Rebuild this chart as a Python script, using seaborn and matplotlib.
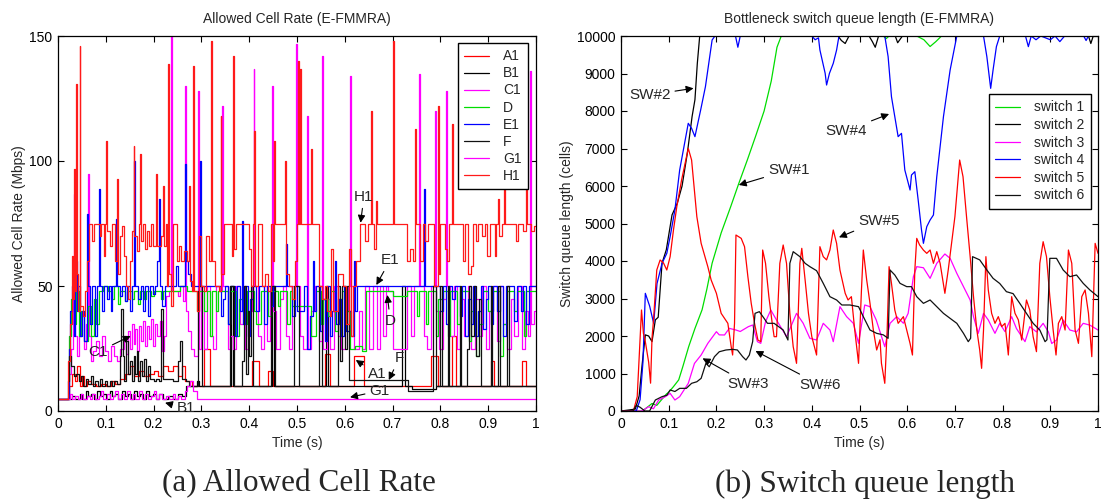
import matplotlib
matplotlib.use('Agg')
import matplotlib.pyplot as plt
import seaborn as sns
import pandas as pd

# ---------------- data: left panel (Allowed Cell Rate, Mbps), step change points (t, value)
A1 = [(0, 5), (0.02, 5), (0.024, 10), (0.03, 15), (0.035, 12), (0.04, 18), (0.045, 10), (0.05, 14),
      (0.055, 10), (0.06, 12), (0.07, 11), (0.08, 10), (0.09, 11), (0.1, 10), (0.11, 12), (0.12, 11),
      (0.13, 13), (0.14, 15), (0.15, 18), (0.16, 14), (0.17, 16), (0.18, 14), (0.19, 15), (0.2, 16),
      (0.21, 14), (0.22, 18), (0.23, 16), (0.24, 18), (0.25, 14), (0.26, 18), (0.265, 12), (0.28, 10),
      (0.305, 25), (0.318, 10), (0.405, 20), (0.42, 10), (0.44, 16), (0.45, 10), (0.558, 23), (0.569, 10),
      (0.62, 22), (0.64, 10), (0.78, 22), (0.795, 10), (0.825, 30), (0.832, 10), (0.905, 20), (0.913, 10),
      (0.97, 20), (0.98, 10), (1.0, 10)]
B1 = [(0, 5), (0.03, 6), (0.035, 5), (0.045, 7), (0.05, 5), (0.058, 8), (0.063, 6), (0.07, 7), (0.075, 5),
      (0.082, 8), (0.088, 6), (0.095, 7), (0.1, 5), (0.108, 8), (0.113, 6), (0.12, 7), (0.126, 5), (0.134, 8),
      (0.14, 6), (0.146, 7), (0.152, 5), (0.16, 8), (0.165, 6), (0.172, 7), (0.178, 5), (0.185, 8), (0.19, 6),
      (0.198, 7), (0.205, 5), (0.212, 7), (0.22, 5), (0.23, 6), (0.24, 5), (0.25, 7), (0.26, 6), (0.268, 10),
      (0.29, 12), (0.296, 10), (0.362, 50), (0.366, 10), (0.448, 50), (0.452, 10), (0.56, 50), (0.564, 10),
      (0.72, 50), (0.726, 10), (0.74, 9), (0.79, 10), (1.0, 10)]
C1 = [(0, 5), (0.022, 15), (0.027, 25), (0.031, 55), (0.033, 87), (0.035, 30), (0.039, 22), (0.044, 30),
      (0.049, 38), (0.054, 25), (0.059, 35), (0.062, 95), (0.064, 30), (0.069, 20), (0.074, 24), (0.08, 28),
      (0.086, 22), (0.092, 30), (0.098, 24), (0.104, 20), (0.11, 26), (0.117, 22), (0.124, 20), (0.13, 25),
      (0.138, 30), (0.142, 23), (0.146, 32), (0.15, 25), (0.154, 35), (0.158, 27), (0.162, 33), (0.166, 24),
      (0.17, 34), (0.174, 28), (0.178, 36), (0.182, 26), (0.186, 34), (0.19, 29), (0.194, 37), (0.198, 26),
      (0.203, 35), (0.208, 30), (0.213, 36), (0.218, 24), (0.222, 30), (0.226, 46), (0.232, 48), (0.236, 150),
      (0.238, 48), (0.25, 46), (0.255, 50), (0.262, 44), (0.266, 130), (0.268, 40), (0.272, 32), (0.278, 25),
      (0.285, 22), (0.292, 128), (0.294, 25), (0.3, 50), (0.305, 25), (0.312, 50), (0.318, 30), (0.325, 25),
      (0.33, 50), (0.338, 48), (0.343, 122), (0.345, 50), (0.355, 25), (0.36, 30), (0.366, 25), (0.372, 50),
      (0.38, 35), (0.386, 50), (0.392, 25), (0.398, 40), (0.405, 50), (0.409, 137), (0.411, 50), (0.418, 30),
      (0.424, 25), (0.43, 50), (0.437, 28), (0.443, 50), (0.448, 130), (0.45, 40), (0.456, 25), (0.464, 45),
      (0.47, 50), (0.477, 30), (0.484, 25), (0.49, 50), (0.498, 147), (0.5, 50), (0.507, 30), (0.513, 25),
      (0.52, 118), (0.522, 25), (0.53, 40), (0.538, 50), (0.545, 28), (0.553, 142), (0.555, 25), (0.563, 45),
      (0.57, 25), (0.578, 50), (0.585, 30), (0.592, 25), (0.6, 40), (0.606, 50), (0.61, 134), (0.613, 50),
      (0.62, 25), (0.63, 40), (0.636, 25), (0.642, 50), (0.65, 25), (0.66, 50), (0.667, 25), (0.673, 50),
      (0.68, 30), (0.686, 50), (0.69, 48), (0.7, 25), (0.73, 50), (0.738, 30), (0.745, 50), (0.755, 135),
      (0.757, 50), (0.765, 30), (0.772, 25), (0.78, 50), (0.788, 120), (0.79, 40), (0.797, 25), (0.805, 45),
      (0.812, 128), (0.814, 50), (0.82, 30), (0.828, 50), (0.835, 25), (0.842, 45), (0.85, 30), (0.858, 50),
      (0.865, 25), (0.872, 45), (0.88, 30), (0.888, 50), (0.895, 25), (0.902, 40), (0.91, 50), (0.918, 28),
      (0.925, 50), (0.932, 35), (0.94, 25), (0.947, 45), (0.955, 30), (0.962, 50), (0.97, 25), (0.976, 40),
      (0.983, 30), (0.988, 136), (0.99, 35), (0.995, 40), (1.0, 40)]
D = [(0, 5), (0.022, 30), (0.028, 45), (0.033, 35), (0.038, 48), (0.043, 30), (0.048, 40), (0.055, 28),
     (0.062, 42), (0.068, 30), (0.075, 45), (0.08, 35), (0.085, 48), (0.095, 50), (0.105, 48), (0.112, 45),
     (0.118, 50), (0.125, 43), (0.13, 48), (0.14, 44), (0.145, 48), (0.155, 45), (0.16, 48), (0.168, 43),
     (0.172, 48), (0.18, 45), (0.185, 48), (0.195, 46), (0.2, 48), (0.215, 45), (0.22, 48), (0.255, 50),
     (0.27, 48), (0.29, 40), (0.295, 48), (0.305, 40), (0.312, 48), (0.318, 30), (0.322, 48), (0.33, 40),
     (0.335, 48), (0.355, 35), (0.36, 48), (0.372, 30), (0.378, 45), (0.39, 35), (0.396, 48), (0.41, 40),
     (0.415, 35), (0.425, 48), (0.44, 38), (0.445, 48), (0.46, 42), (0.465, 48), (0.48, 35), (0.485, 48),
     (0.49, 42), (0.53, 30), (0.54, 48), (0.55, 35), (0.555, 45), (0.565, 38), (0.57, 48), (0.58, 32),
     (0.586, 45), (0.595, 48), (0.603, 40), (0.61, 25), (0.622, 26), (0.635, 24), (0.645, 48), (0.7, 46),
     (0.73, 48), (0.75, 38), (0.755, 48), (0.77, 35), (0.775, 48), (0.79, 30), (0.795, 45), (0.805, 48),
     (0.815, 30), (0.82, 48), (0.835, 35), (0.84, 48), (0.86, 28), (0.865, 40), (0.875, 22), (0.88, 35),
     (0.89, 48), (0.9, 40), (0.91, 48), (0.925, 22), (0.93, 35), (0.94, 48), (0.955, 40), (0.96, 48),
     (0.975, 30), (0.98, 48), (1.0, 48)]
E1 = [(0, 5), (0.022, 25), (0.026, 40), (0.03, 50), (0.033, 30), (0.036, 60), (0.039, 40), (0.042, 50),
      (0.046, 30), (0.05, 40), (0.055, 28), (0.061, 79), (0.063, 50), (0.067, 35), (0.072, 50), (0.077, 30),
      (0.082, 50), (0.086, 89), (0.088, 50), (0.092, 40), (0.097, 50), (0.102, 45), (0.106, 50), (0.11, 40),
      (0.114, 50), (0.121, 77), (0.123, 50), (0.13, 46), (0.134, 50), (0.14, 44), (0.145, 50), (0.15, 40),
      (0.155, 50), (0.16, 100), (0.162, 50), (0.168, 45), (0.173, 50), (0.178, 40), (0.183, 50), (0.188, 38),
      (0.192, 50), (0.198, 47), (0.202, 50), (0.208, 60), (0.212, 85), (0.214, 50), (0.218, 42), (0.223, 50),
      (0.247, 58), (0.251, 50), (0.266, 99), (0.268, 60), (0.273, 55), (0.279, 50), (0.297, 100), (0.299, 50),
      (0.34, 38), (0.345, 45), (0.35, 50), (0.356, 35), (0.36, 50), (0.37, 30), (0.375, 50), (0.38, 40),
      (0.385, 76), (0.387, 35), (0.392, 50), (0.397, 30), (0.402, 45), (0.407, 50), (0.415, 40), (0.42, 50),
      (0.432, 35), (0.437, 50), (0.445, 42), (0.45, 50), (0.478, 67), (0.48, 50), (0.49, 38), (0.495, 50),
      (0.5, 40), (0.515, 50), (0.52, 25), (0.527, 38), (0.533, 60), (0.535, 40), (0.54, 50), (0.548, 32),
      (0.553, 45), (0.558, 28), (0.563, 50), (0.568, 30), (0.574, 40), (0.58, 60), (0.582, 35), (0.587, 45),
      (0.592, 30), (0.598, 50), (0.602, 32), (0.608, 40), (0.614, 30), (0.62, 60), (0.622, 40), (0.626, 50),
      (0.765, 89), (0.767, 50), (0.8, 40), (0.805, 50), (0.812, 35), (0.818, 50), (0.825, 45), (0.83, 50),
      (0.84, 38), (0.845, 50), (0.852, 30), (0.858, 45), (0.863, 35), (0.868, 50), (0.873, 30), (0.878, 40),
      (0.884, 50), (0.89, 33), (0.895, 45), (0.9, 50), (0.905, 35), (0.91, 50), (0.918, 40), (0.924, 50),
      (0.932, 30), (0.937, 50), (0.955, 36), (0.96, 50), (0.968, 40), (0.972, 50), (0.98, 35), (0.985, 50),
      (1.0, 50)]
F = [(0, 5), (0.021, 12), (0.024, 22), (0.028, 18), (0.033, 14), (0.038, 15), (0.043, 12), (0.048, 14),
     (0.053, 10), (0.058, 13), (0.063, 11), (0.068, 14), (0.073, 10), (0.078, 12), (0.083, 10), (0.088, 13),
     (0.093, 10), (0.098, 12), (0.103, 10), (0.108, 12), (0.113, 10), (0.118, 12), (0.123, 11), (0.129, 22),
     (0.132, 41), (0.135, 22), (0.139, 12), (0.143, 28), (0.146, 15), (0.15, 20), (0.154, 12), (0.158, 22),
     (0.161, 15), (0.165, 24), (0.168, 12), (0.172, 20), (0.176, 14), (0.18, 21), (0.184, 12), (0.188, 18),
     (0.192, 13), (0.2, 12), (0.205, 13), (0.212, 12), (0.216, 41), (0.219, 13), (0.24, 12), (0.252, 20),
     (0.256, 28), (0.26, 13), (0.268, 12), (0.274, 10), (0.292, 48), (0.296, 50), (0.302, 10), (0.36, 50),
     (0.368, 10), (0.385, 20), (0.39, 50), (0.393, 15), (0.397, 40), (0.4, 22), (0.404, 50), (0.408, 10),
     (0.445, 50), (0.455, 10), (0.493, 50), (0.505, 10), (0.545, 50), (0.552, 10), (0.585, 50), (0.59, 20),
     (0.594, 50), (0.6, 25), (0.604, 50), (0.608, 12.5), (0.733, 8), (0.785, 50), (0.79, 10), (0.8, 50),
     (0.803, 10), (0.815, 50), (0.818, 10), (0.84, 50), (0.843, 10), (0.855, 25), (0.86, 50), (0.865, 30),
     (0.87, 50), (0.875, 22), (0.88, 45), (0.885, 10), (0.905, 50), (0.908, 10), (0.92, 50), (0.924, 10),
     (0.94, 50), (0.943, 10), (1.0, 10)]
G1 = [(0, 5), (0.025, 7), (0.03, 5), (0.036, 6), (0.042, 5), (0.048, 7), (0.053, 5), (0.06, 6), (0.066, 5),
      (0.072, 7), (0.078, 5), (0.085, 6), (0.09, 8), (0.095, 5), (0.102, 7), (0.108, 5), (0.115, 6), (0.12, 8),
      (0.125, 5), (0.132, 7), (0.138, 5), (0.145, 8), (0.15, 5), (0.157, 7), (0.162, 5), (0.17, 8), (0.175, 5),
      (0.182, 7), (0.188, 5), (0.195, 6), (0.2, 8), (0.205, 5), (0.212, 7), (0.218, 5), (0.225, 6), (0.232, 5),
      (0.24, 7), (0.245, 5), (0.252, 6), (0.258, 5), (0.265, 8), (0.27, 10), (0.276, 12), (0.282, 8), (0.29, 5),
      (1.0, 5)]
H1 = [(0, 5), (0.021, 20), (0.025, 35), (0.029, 62), (0.032, 45), (0.034, 97), (0.036, 48), (0.037, 131),
      (0.039, 55), (0.042, 40), (0.045, 146), (0.047, 42), (0.052, 38), (0.056, 48), (0.06, 60), (0.064, 75),
      (0.072, 68), (0.075, 75), (0.087, 70), (0.091, 75), (0.096, 62), (0.099, 75), (0.101, 108), (0.103, 72),
      (0.108, 66), (0.112, 75), (0.12, 60), (0.124, 93), (0.126, 55), (0.129, 70), (0.134, 74), (0.138, 62),
      (0.142, 50), (0.147, 45), (0.151, 60), (0.155, 72), (0.158, 106), (0.16, 70), (0.165, 64), (0.169, 75),
      (0.171, 103), (0.173, 68), (0.178, 75), (0.182, 65), (0.186, 72), (0.19, 66), (0.195, 75), (0.199, 66),
      (0.204, 72), (0.206, 95), (0.208, 66), (0.215, 70), (0.219, 90), (0.221, 66), (0.226, 75), (0.229, 50),
      (0.231, 139), (0.233, 55), (0.237, 42), (0.241, 75), (0.249, 60), (0.254, 66), (0.258, 60), (0.264, 64),
      (0.27, 60), (0.275, 90), (0.277, 52), (0.281, 48), (0.283, 138), (0.285, 48), (0.29, 40), (0.295, 70),
      (0.299, 50), (0.306, 48), (0.31, 70), (0.315, 60), (0.32, 148), (0.323, 60), (0.328, 50), (0.336, 48),
      (0.34, 118), (0.342, 55), (0.348, 75), (0.363, 62), (0.366, 142), (0.369, 65), (0.373, 75), (0.4, 65),
      (0.404, 50), (0.408, 75), (0.411, 112), (0.413, 50), (0.418, 75), (0.427, 50), (0.433, 55), (0.44, 48),
      (0.445, 75), (0.449, 60), (0.452, 108), (0.454, 75), (0.475, 100), (0.477, 55), (0.483, 50), (0.49, 45),
      (0.495, 60), (0.499, 75), (0.502, 140), (0.504, 75), (0.507, 137), (0.509, 75), (0.53, 105), (0.532, 75),
      (0.545, 50), (0.552, 45), (0.558, 50), (0.563, 40), (0.568, 38), (0.572, 65), (0.576, 40), (0.586, 55),
      (0.596, 50), (0.603, 35), (0.608, 65), (0.612, 30), (0.618, 50), (0.624, 60), (0.631, 75), (0.643, 68),
      (0.648, 75), (0.655, 120), (0.657, 75), (0.662, 65), (0.666, 84), (0.668, 75), (0.7, 148), (0.703, 75),
      (0.731, 60), (0.737, 65), (0.742, 60), (0.747, 113), (0.749, 75), (0.758, 60), (0.763, 75), (0.768, 68),
      (0.775, 75), (0.787, 50), (0.795, 122), (0.797, 55), (0.8, 75), (0.809, 65), (0.814, 60), (0.819, 75),
      (0.825, 115), (0.827, 75), (0.847, 60), (0.852, 75), (0.857, 55), (0.863, 58), (0.868, 75), (0.874, 68),
      (0.879, 75), (0.888, 70), (0.893, 75), (0.898, 62), (0.903, 75), (0.914, 62), (0.917, 75), (0.921, 85),
      (0.923, 70), (0.928, 75), (0.933, 126), (0.935, 75), (0.958, 68), (0.963, 75), (0.973, 72), (0.98, 113),
      (0.982, 75), (0.99, 72), (0.995, 74), (1.0, 74)]

acr_names = ['A1', 'B1', 'C1', 'D', 'E1', 'F', 'G1', 'H1']
acr_series = [A1, B1, C1, D, E1, F, G1, H1]
acr_colors = ['#ff0000', '#000000', '#ff00ff', '#00dd00', '#0000ff', '#111111', '#ff00ff', '#ff1a1a']

# ---------------- data: right panel (switch queue length, cells), points (t, value)
SW1 = [(0, 0), (0.045, 0), (0.055, 100), (0.065, 200), (0.075, 150), (0.085, 300), (0.095, 450), (0.1, 500),
       (0.11, 650), (0.121, 830), (0.13, 1200), (0.142, 1720), (0.155, 2200), (0.17, 2700), (0.18, 3250),
       (0.191, 3940), (0.21, 4750), (0.23, 5450), (0.247, 6070), (0.265, 6700), (0.282, 7320), (0.3, 8000),
       (0.315, 8800), (0.327, 9700), (0.336, 10000), (0.55, 10000), (0.556, 9930), (0.562, 10000),
       (0.62, 10000), (0.635, 9900), (0.648, 9720), (0.66, 9850), (0.672, 10000), (1.0, 10000)]
SW2 = [(0, 0), (0.03, 50), (0.038, 400), (0.044, 1200), (0.051, 2030), (0.058, 2000), (0.065, 1850),
       (0.072, 2430), (0.078, 2500), (0.086, 3940), (0.095, 4300), (0.107, 5230), (0.118, 5540), (0.128, 6000),
       (0.139, 6870), (0.149, 7850), (0.155, 8300), (0.16, 9270), (0.165, 10000), (0.455, 10000), (0.462, 9880),
       (0.47, 9800), (0.478, 10000), (0.52, 10000), (0.527, 9850), (0.533, 9700), (0.54, 10000), (0.575, 10000),
       (0.58, 9820), (0.59, 10000), (0.98, 10000), (0.985, 9800), (0.99, 10000), (1.0, 10000)]
SW3 = [(0, 0), (0.044, 0), (0.058, 115), (0.068, 60), (0.079, 293), (0.093, 382), (0.103, 471), (0.113, 293),
       (0.123, 382), (0.141, 736), (0.154, 1269), (0.168, 1493), (0.182, 1804), (0.2, 2115), (0.206, 2030),
       (0.217, 2027), (0.227, 2204), (0.241, 2160), (0.25, 2120), (0.267, 2249), (0.276, 2293), (0.286, 1849),
       (0.293, 1804), (0.303, 2380), (0.314, 2693), (0.326, 2427), (0.347, 1982), (0.368, 2604), (0.382, 2338),
       (0.396, 1938), (0.41, 1893), (0.424, 2338), (0.438, 2160), (0.445, 1849), (0.459, 2782), (0.473, 2516),
       (0.487, 2340), (0.498, 1804), (0.511, 2827), (0.522, 2782), (0.535, 2430), (0.553, 1715), (0.564, 2338),
       (0.578, 2516), (0.592, 2340), (0.602, 2604), (0.613, 3582), (0.62, 3849), (0.634, 3820), (0.648, 3538),
       (0.662, 3938), (0.679, 4187), (0.69, 4070), (0.704, 3671), (0.718, 3316), (0.732, 2960), (0.739, 2516),
       (0.749, 2071), (0.76, 2604), (0.77, 2427), (0.784, 2071), (0.794, 2338), (0.805, 2116), (0.819, 2516),
       (0.829, 2200), (0.847, 1849), (0.857, 2249), (0.871, 2110), (0.885, 2338), (0.896, 2110), (0.903, 1800),
       (0.913, 1893), (0.927, 2427), (0.941, 2160), (0.955, 2110), (0.969, 2338), (0.983, 2290), (1.0, 2160)]
SW4 = [(0, 0), (0.032, 0), (0.04, 300), (0.046, 1300), (0.051, 3138), (0.06, 2800), (0.0685, 2338),
       (0.0755, 3400), (0.086, 3938), (0.096, 4204), (0.103, 4649), (0.113, 5360), (0.123, 6427), (0.141, 7671),
       (0.148, 7538), (0.155, 7316), (0.167, 8027), (0.177, 8649), (0.191, 9893), (0.197, 10000), (0.24, 10000),
       (0.245, 9700), (0.25, 10000), (0.4, 10000), (0.407, 9900), (0.414, 9950), (0.417, 9627), (0.428, 9005),
       (0.431, 8693), (0.437, 9005), (0.445, 9271), (0.452, 9627), (0.457, 10000), (0.553, 10000), (0.56, 9449),
       (0.567, 8382), (0.574, 7849), (0.581, 7316), (0.588, 7404), (0.595, 6427), (0.606, 5893), (0.609, 6293),
       (0.616, 6382), (0.623, 5627), (0.63, 4827), (0.634, 4471), (0.641, 4915), (0.648, 5093), (0.655, 5227),
       (0.662, 6249), (0.676, 7849), (0.69, 9093), (0.704, 10000), (0.76, 10000), (0.767, 9449), (0.775, 8604),
       (0.78, 9093), (0.787, 9716), (0.794, 10000), (0.848, 10000), (0.854, 9716), (0.86, 10000), (0.87, 9900),
       (0.88, 10000), (0.9, 9900), (0.91, 10000), (0.92, 9850), (0.93, 10000), (0.97, 10000), (0.975, 9880),
       (0.98, 10000), (1.0, 10000)]
SW5 = [(0, 0), (0.026, 0), (0.034, 382), (0.043, 2693), (0.047, 2071), (0.051, 1849), (0.058, 1300),
       (0.062, 742), (0.065, 1938), (0.068, 2400), (0.075, 3760), (0.082, 4027), (0.089, 3950), (0.096, 3760),
       (0.103, 4116), (0.11, 4827), (0.117, 5449), (0.127, 6160), (0.141, 7004), (0.148, 6693), (0.159, 5182),
       (0.168, 4471), (0.182, 3849), (0.189, 3493), (0.2, 3138), (0.21, 2604), (0.224, 2338), (0.231, 1715),
       (0.234, 1493), (0.238, 2338), (0.241, 4693), (0.252, 4604), (0.259, 4382), (0.266, 3582), (0.273, 2871),
       (0.28, 2338), (0.287, 1893), (0.293, 1849), (0.297, 4293), (0.303, 3938), (0.31, 3049), (0.317, 2338),
       (0.321, 1982), (0.326, 1982), (0.333, 3938), (0.34, 4427), (0.347, 3938), (0.354, 2604), (0.361, 1715),
       (0.368, 1271), (0.375, 3938), (0.379, 4338), (0.386, 3493), (0.393, 2604), (0.4, 1982), (0.41, 1493),
       (0.417, 4382), (0.424, 4116), (0.431, 4030), (0.438, 4293), (0.445, 4827), (0.452, 4470), (0.459, 3760),
       (0.47, 3138), (0.476, 2960), (0.483, 3049), (0.49, 2160), (0.498, 1271), (0.504, 3200), (0.508, 4293),
       (0.515, 3500), (0.522, 2871), (0.529, 2160), (0.536, 1627), (0.543, 1900), (0.546, 1271), (0.553, 738),
       (0.558, 2160), (0.562, 3849), (0.567, 3404), (0.574, 2693), (0.581, 2338), (0.592, 2516), (0.599, 2160),
       (0.606, 1800), (0.611, 1493), (0.616, 3760), (0.62, 4604), (0.626, 4427), (0.634, 4290), (0.641, 4204),
       (0.648, 4293), (0.655, 3938), (0.662, 4250), (0.669, 3938), (0.679, 3138), (0.686, 3760), (0.693, 4471),
       (0.7, 5182), (0.71, 6693), (0.717, 6249), (0.725, 5093), (0.732, 4116), (0.739, 3049), (0.746, 2160),
       (0.752, 1627), (0.756, 1138), (0.76, 2160), (0.765, 4116), (0.77, 3227), (0.777, 2604), (0.784, 2338),
       (0.791, 2516), (0.798, 2250), (0.805, 2338), (0.812, 1493), (0.819, 3049), (0.826, 2604), (0.833, 2430),
       (0.84, 1893), (0.85, 2960), (0.857, 2693), (0.864, 1982), (0.871, 1582), (0.878, 3938), (0.885, 4515),
       (0.892, 4116), (0.899, 3049), (0.906, 2160), (0.912, 1493), (0.917, 2338), (0.924, 2516), (0.931, 2160),
       (0.938, 4293), (0.945, 3938), (0.952, 2160), (0.959, 1804), (0.966, 3049), (0.973, 3227), (0.98, 2604),
       (0.987, 1449), (0.994, 4471), (1.0, 4204)]
SW6 = [(0, 0), (0.025, 0), (0.032, 150), (0.04, 100), (0.05, 0), (0.06, 0), (0.072, 293), (0.086, 382),
       (0.096, 420), (0.103, 560), (0.113, 520), (0.123, 604), (0.137, 604), (0.148, 738), (0.159, 780),
       (0.168, 871), (0.178, 1271), (0.185, 1180), (0.196, 1449), (0.206, 1580), (0.22, 1627), (0.234, 1644),
       (0.244, 1627), (0.255, 1449), (0.262, 1360), (0.269, 1490), (0.276, 1849), (0.281, 2604), (0.29, 2649),
       (0.3, 2470), (0.307, 2338), (0.321, 2338), (0.34, 2160), (0.35, 1893), (0.354, 3938), (0.361, 4249),
       (0.375, 4116), (0.386, 3938), (0.396, 3849), (0.41, 3742), (0.424, 3404), (0.438, 3049), (0.452, 2960),
       (0.463, 2827), (0.48, 2827), (0.498, 2782), (0.508, 2516), (0.522, 2160), (0.536, 2071), (0.55, 2030),
       (0.56, 1938), (0.564, 3760), (0.574, 3627), (0.585, 3404), (0.599, 3316), (0.609, 3316), (0.62, 3049),
       (0.634, 2871), (0.648, 2960), (0.662, 2782), (0.676, 2604), (0.69, 2470), (0.704, 2338), (0.718, 2071),
       (0.728, 1849), (0.733, 1940), (0.737, 4116), (0.752, 4030), (0.767, 3760), (0.78, 3538), (0.794, 3400),
       (0.808, 3182), (0.822, 3130), (0.836, 2871), (0.85, 2604), (0.864, 2338), (0.878, 2160), (0.889, 1849),
       (0.893, 1900), (0.899, 4071), (0.913, 4071), (0.927, 3760), (0.941, 3582), (0.955, 3627), (0.969, 3404),
       (0.983, 3227), (1.0, 3049)]

sw_names = ['switch 1', 'switch 2', 'switch 3', 'switch 4', 'switch 5', 'switch 6']
sw_series = [SW1, SW2, SW3, SW4, SW5, SW6]
sw_colors = ['#00dd00', '#000000', '#ff00ff', '#0000ff', '#ff0000', '#111111']

x_ticks = [0, 0.1, 0.2, 0.3, 0.4, 0.5, 0.6, 0.7, 0.8, 0.9, 1]
x_ticklabels = ['0', '0.1', '0.2', '0.3', '0.4', '0.5', '0.6', '0.7', '0.8', '0.9', '1']
acr_yticks = [0, 50, 100, 150]
q_yticks = [0, 1000, 2000, 3000, 4000, 5000, 6000, 7000, 8000, 9000, 10000]

# annotations: (label, text position, arrow tip)
acr_notes = [('C1', (0.084, 23.7), (0.152, 30)), ('B1', (0.268, 1.0), (0.224, 3.3)),
             ('H1', (0.64, 85.7), (0.633, 75.3)), ('E1', (0.695, 60.4), (0.666, 50.4)),
             ('D', (0.695, 36.1), (0.689, 46.4)), ('F', (0.714, 21.1), (0.692, 12.4)),
             ('A1', (0.667, 14.8), (0.623, 20.4)), ('G1', (0.673, 8.1), (0.611, 5.5))]
sw_notes = [('SW#2', (0.06, 8427), (0.152, 8605)), ('SW#1', (0.352, 6427), (0.247, 6027)),
            ('SW#4', (0.472, 7476), (0.562, 7920)), ('SW#5', (0.541, 5076), (0.457, 4631)),
            ('SW#3', (0.267, 720), (0.171, 1405)), ('SW#6', (0.418, 693), (0.282, 1600))]

# ---------------- style
sns.set_theme(style='ticks')
plt.rcParams['font.family'] = ['Liberation Sans', 'DejaVu Sans']
plt.rcParams['axes.linewidth'] = 0.9

W, H = 1101, 504
fig = plt.figure(figsize=(W / 100, H / 100), dpi=100)
fig.patch.set_facecolor('white')
ax1 = fig.add_axes([58 / W, (H - 411) / H, 478 / W, 375 / H])
ax2 = fig.add_axes([621 / W, (H - 411) / H, 477 / W, 375 / H])


def frame(ax, series, names, colors, steps):
    for s, n, c in zip(series, names, colors):
        df = pd.DataFrame(s, columns=['t', 'v'])
        kw = dict(drawstyle='steps-post') if steps else {}
        sns.lineplot(data=df, x='t', y='v', ax=ax, color=c, lw=0.9, label=n,
                     estimator=None, sort=False, **kw)
    ax.set_xlim(0, 1)
    ax.set_xticks(x_ticks)
    ax.set_xticklabels(x_ticklabels)
    ax.tick_params(direction='in', top=True, right=True, length=4, width=0.8,
                   labelsize=10, pad=4, colors='black')
    ax.set_xlabel('Time (s)', fontsize=10)
    ax.xaxis.set_label_coords(0.5, -0.068)
    for sp in ax.spines.values():
        sp.set_color('black')
        sp.set_visible(True)


frame(ax1, acr_series, acr_names, acr_colors, True)
ax1.set_ylim(0, 150)
ax1.set_yticks(acr_yticks)
ax1.set_ylabel('Allowed Cell Rate (Mbps)', fontsize=10)
ax1.yaxis.set_label_coords(-0.066, 0.5)
ax1.set_title('Allowed Cell Rate (E-FMMRA)', fontsize=10, pad=9)
leg1 = ax1.legend(loc='upper right', bbox_to_anchor=(0.983, 0.981), borderaxespad=0,
                  frameon=True, fancybox=False, edgecolor='black', framealpha=1, fontsize=10,
                  handlelength=1.8, handletextpad=1.0, labelspacing=0.22, borderpad=0.45)
leg1.get_frame().set_linewidth(1.0)

frame(ax2, sw_series, sw_names, sw_colors, False)
ax2.set_ylim(0, 10000)
ax2.set_yticks(q_yticks)
ax2.set_yticklabels([str(v) for v in q_yticks])
ax2.set_ylabel('Switch queue length (cells)', fontsize=10)
ax2.yaxis.set_label_coords(-0.098, 0.5)
ax2.set_title('Bottleneck switch queue length (E-FMMRA)', fontsize=10, pad=9)
leg2 = ax2.legend(loc='upper right', bbox_to_anchor=(0.985, 0.845), borderaxespad=0,
                  frameon=True, fancybox=False, edgecolor='black', framealpha=1, fontsize=10,
                  handlelength=1.8, handletextpad=1.0, labelspacing=0.26, borderpad=0.45)
leg2.get_frame().set_linewidth(1.0)

arrow = dict(arrowstyle='-|>', color='black', lw=0.8, mutation_scale=11, shrinkA=1, shrinkB=0)
for lab, xy_text, xy in acr_notes:
    ax1.annotate(lab, xy=xy, xytext=xy_text, ha='center', va='center', fontsize=11,
                 arrowprops=arrow, zorder=6)
for lab, xy_text, xy in sw_notes:
    ax2.annotate(lab, xy=xy, xytext=xy_text, ha='center', va='center', fontsize=11,
                 arrowprops=arrow, zorder=6)

fig.text(299 / W, 1 - 484 / H, '(a) Allowed Cell Rate', ha='center', va='center',
         family='Liberation Serif', fontsize=22.5)
fig.text(865 / W, 1 - 484 / H, '(b) Switch queue length', ha='center', va='center',
         family='Liberation Serif', fontsize=22.5)

fig.savefig('out.png', dpi=100, facecolor='white')
